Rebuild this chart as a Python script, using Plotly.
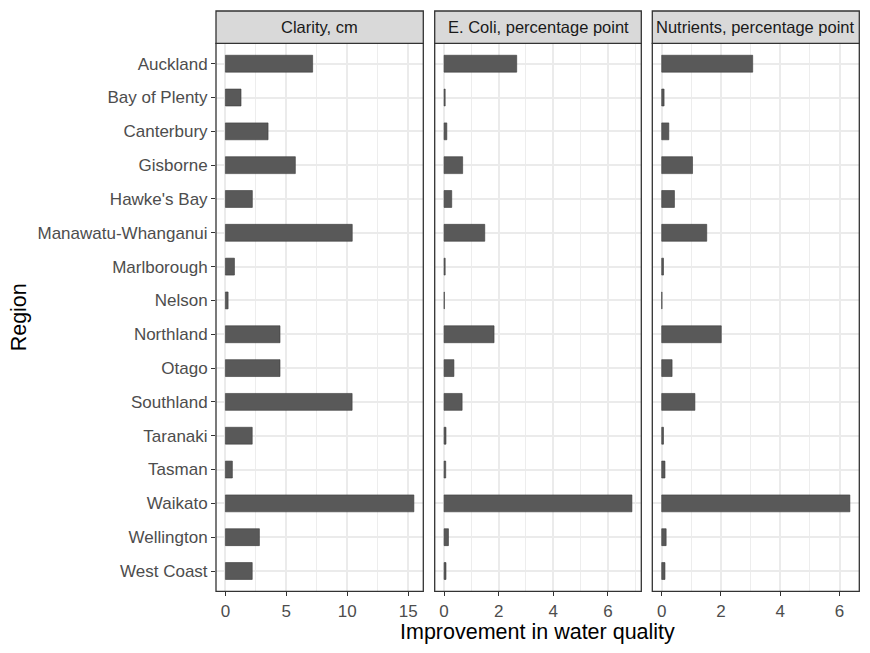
import plotly.graph_objects as go

# Water quality improvement by region, three measures
regions = ["Auckland", "Bay of Plenty", "Canterbury", "Gisborne", "Hawke's Bay",
           "Manawatu-Whanganui", "Marlborough", "Nelson", "Northland", "Otago",
           "Southland", "Taranaki", "Tasman", "Waikato", "Wellington", "West Coast"]

clarity = [7.16, 1.28, 3.5, 5.74, 2.21, 10.41, 0.74, 0.22,
           4.48, 4.48, 10.4, 2.2, 0.57, 15.47, 2.79, 2.2]
ecoli = [2.66, 0.04, 0.10, 0.68, 0.28, 1.49, 0.04, 0.01,
         1.83, 0.36, 0.66, 0.07, 0.06, 6.88, 0.16, 0.07]
nutrients = [3.07, 0.08, 0.24, 1.04, 0.43, 1.52, 0.06, 0.01,
             2.01, 0.35, 1.12, 0.06, 0.11, 6.35, 0.15, 0.11]

facet_titles = ["Clarity, cm", "E. Coli, percentage point", "Nutrients, percentage point"]
series = [clarity, ecoli, nutrients]
major_dticks = [5, 2, 2]
minor_dticks = [2.5, 1, 1]

# the page body has an 8px margin, so the figure is a bit smaller than the window
OFF = 8
W, H = 870 - 2 * OFF, 653 - 2 * OFF
FONT = "Liberation Sans"
panel_px = [(216, 423.3), (434.7, 641.3), (652.3, 859.3)]
top_px, bottom_px = 43.4, 591.3
strip_top_px = 11

def px_x(p):
    return (p - OFF) / W

def px_y(p):
    return 1 - (p - OFF) / H

fig = go.Figure()
shapes = []
annotations = []

for i, (vals, title) in enumerate(zip(series, facet_titles)):
    n = "" if i == 0 else str(i + 1)
    fig.add_trace(go.Bar(
        x=vals, y=regions, orientation="h", width=0.5,
        marker=dict(color="#595959", line=dict(color="#3a3a3a", width=0.6)),
        xaxis="x" + n, yaxis="y" + n, showlegend=False,
        hovertemplate="%{y}: %{x}<extra></extra>",
    ))
    vmax = max(vals)
    x0, x1 = panel_px[i]
    fig.update_layout(**{
        "xaxis" + n: dict(
            domain=[px_x(x0), px_x(x1)], anchor="y" + n,
            range=[-0.05 * vmax, 1.05 * vmax],
            dtick=major_dticks[i], tick0=0,
            showgrid=True, gridcolor="#EBEBEB", gridwidth=1.8,
            minor=dict(dtick=minor_dticks[i], tick0=0, showgrid=True,
                       gridcolor="#EDEDED", gridwidth=1.1),
            zeroline=False, showline=False,
            ticks="outside", ticklen=4, tickcolor="#333333", tickwidth=1.2,
            tickfont=dict(family=FONT, size=17, color="#4D4D4D"),
        ),
        "yaxis" + n: dict(
            domain=[px_y(bottom_px), px_y(top_px)], anchor="x" + n,
            type="category", categoryorder="array", categoryarray=regions,
            range=[len(regions) - 0.4, -0.6],
            showgrid=True, gridcolor="#EBEBEB", gridwidth=1.8,
            zeroline=False, showline=False,
            ticks="outside" if i == 0 else "", ticklen=4, tickcolor="#333333", tickwidth=1.2,
            showticklabels=(i == 0),
            tickfont=dict(family=FONT, size=17, color="#4D4D4D"),
            **({} if i == 0 else {"matches": "y"}),
        ),
    })
    # panel border
    shapes.append(dict(type="rect", xref="paper", yref="paper",
                       x0=px_x(x0), x1=px_x(x1), y0=px_y(bottom_px), y1=px_y(top_px),
                       line=dict(color="#333333", width=1.3), fillcolor="rgba(0,0,0,0)",
                       layer="above"))
    # strip
    shapes.append(dict(type="rect", xref="paper", yref="paper",
                       x0=px_x(x0), x1=px_x(x1), y0=px_y(top_px), y1=px_y(strip_top_px),
                       line=dict(color="#333333", width=1.3), fillcolor="#D9D9D9"))
    annotations.append(dict(text=title, xref="paper", yref="paper",
                            x=px_x((x0 + x1) / 2), y=px_y((top_px + strip_top_px) / 2),
                            showarrow=False, xanchor="center", yanchor="middle",
                            font=dict(family=FONT, size=16.5, color="#1A1A1A")))

annotations.append(dict(text="Improvement in water quality", xref="paper", yref="paper",
                        x=px_x((panel_px[0][0] + panel_px[2][1]) / 2), y=px_y(632),
                        showarrow=False, xanchor="center", yanchor="middle",
                        font=dict(family=FONT, size=21.5, color="black")))
annotations.append(dict(text="Region", xref="paper", yref="paper",
                        x=px_x(19), y=px_y((top_px + bottom_px) / 2), textangle=-90,
                        showarrow=False, xanchor="center", yanchor="middle",
                        font=dict(family=FONT, size=21.5, color="black")))

fig.update_layout(
    width=W, height=H,
    margin=dict(l=0, r=0, t=0, b=0),
    paper_bgcolor="white", plot_bgcolor="white",
    shapes=shapes, annotations=annotations,
    bargap=0.5,
)

fig.write_html("out.html")
